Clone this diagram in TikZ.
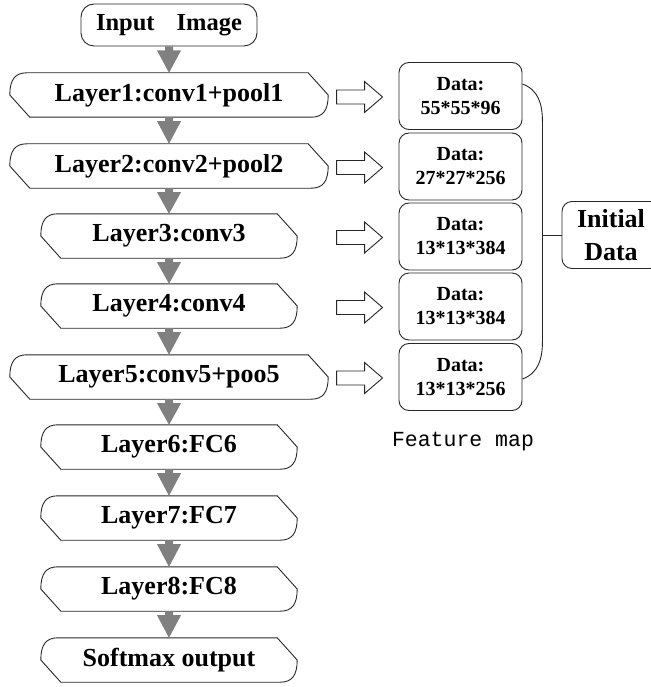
\documentclass[tikz,border=0pt]{standalone}
\usepackage{fontspec}
\setmainfont{Liberation Serif}
\newfontfamily\monofont{Liberation Mono}
\usetikzlibrary{calc}
\definecolor{arrowgray}{RGB}{128,128,128}
\newcommand\dispshape[1]{%
  \draw[shapeline] ($(#1.north west)+(17,0)$) -- ($(#1.north east)+(-20,0)$) -- (#1.east)
    .. controls ($(#1.east)+(0,15)$) and ($(#1.south east)+(-5,0)$) .. ($(#1.south east)+(-17,0)$)
    -- ($(#1.south west)+(20,0)$) -- (#1.west)
    .. controls ($(#1.west)+(0,-15)$) and ($(#1.north west)+(5,0)$) .. cycle;}
\newcommand\garrow[2]{%
  \fill[arrowgray] ($(#1.south)+(-4,0)$) -- ($(#1.south)+(4,0)$) -- ($(#1.south)+(4,4)$)
    -- ($(#1.south)+(12,4)$) -- (#2.north) -- ($(#1.south)+(-12,4)$) -- ($(#1.south)+(-4,4)$) -- cycle;}
\newcommand\harrow[1]{%
  \draw[shapeline] ($(#1.west)+(-16,1)$) -- ++(-18,-15.5) -- ++(0,8.5) -- ++(-28,0)
    -- ++(0,14) -- ++(28,0) -- ++(0,8.5) -- cycle;}
\begin{document}
\begin{tikzpicture}[x=1pt,y=-1pt,
  shapeline/.style={draw=black!85, line width=0.9pt, line join=miter},
  lay/.style={draw=none, inner sep=0pt, minimum height=44pt, font=\fontsize{26}{31}\selectfont\bfseries},
  wide/.style={minimum width=318pt},
  narrow/.style={minimum width=256pt},
  inbox/.style={draw=black!85, line width=0.9pt, rounded corners=13pt, minimum width=176pt, minimum height=42pt,
    inner sep=0pt, font=\fontsize{24.5}{29}\selectfont\bfseries},
  datab/.style={draw=black!85, line width=0.9pt, rounded corners=10pt, minimum width=123pt, minimum height=67pt,
    inner sep=0pt, align=center, font=\fontsize{20}{24}\selectfont\bfseries},
  initb/.style={draw=black!85, line width=0.9pt, rounded corners=10pt, minimum width=98pt, minimum height=67pt,
    inner sep=0pt, align=center, font=\fontsize{26}{33}\selectfont\bfseries},
  thinline/.style={draw=black!85, line width=0.9pt}]
\useasboundingbox (0,0) rectangle (650,687);

\node[inbox] (inp) at (169,25) {Input\hspace{22pt}Image};
\node[lay,wide] (l1) at (169,95) {Layer1:conv1+pool1};
\node[lay,wide] (l2) at (169,166) {Layer2:conv2+pool2};
\node[lay,narrow] (l3) at (169,236) {Layer3:conv3};
\node[lay,narrow] (l4) at (169,306) {Layer4:conv4};
\node[lay,wide] (l5) at (169,377) {Layer5:conv5+poo5};
\node[lay,narrow] (l6) at (169,447) {Layer6:FC6};
\node[lay,narrow] (l7) at (169,518) {Layer7:FC7};
\node[lay,narrow] (l8) at (169,589) {Layer8:FC8};
\node[lay,narrow] (sm) at (169,660) {Softmax output};

\foreach \n in {l1,l2,l3,l4,l5,l6,l7,l8,sm} {\dispshape{\n}}

\garrow{inp}{l1}
\garrow{l1}{l2}
\garrow{l2}{l3}
\garrow{l3}{l4}
\garrow{l4}{l5}
\garrow{l5}{l6}
\garrow{l6}{l7}
\garrow{l7}{l8}
\garrow{l8}{sm}

\node[datab] (d1) at (460.5,96) {Data:\\55*55*96};
\node[datab] (d2) at (460.5,166.5) {Data:\\27*27*256};
\node[datab] (d3) at (460.5,236.5) {Data:\\13*13*384};
\node[datab] (d4) at (460.5,306.5) {Data:\\13*13*384};
\node[datab] (d5) at (460.5,377) {Data:\\13*13*256};

\foreach \n in {d1,d2,d3,d4,d5} {\harrow{\n}}

\node[initb] (init) at (611,235) {Initial\\Data};
\coordinate (brk) at (542,235);

\draw[thinline] ($(d1.east)+(0,-12)$) .. controls +(16,6) and +(0,-18) .. ($(d1.east)+(20,26)$)
  -- ($(d5.east)+(20,-36)$) .. controls +(0,18) and +(16,-6) .. ($(d5.east)+(0,2)$);
\draw[thinline] (brk) -- (init.west);

\node[font=\monofont\fontsize{21.5}{24}\selectfont, inner sep=0pt] (fm) at (463,442) {Feature map};
\end{tikzpicture}
\end{document}
